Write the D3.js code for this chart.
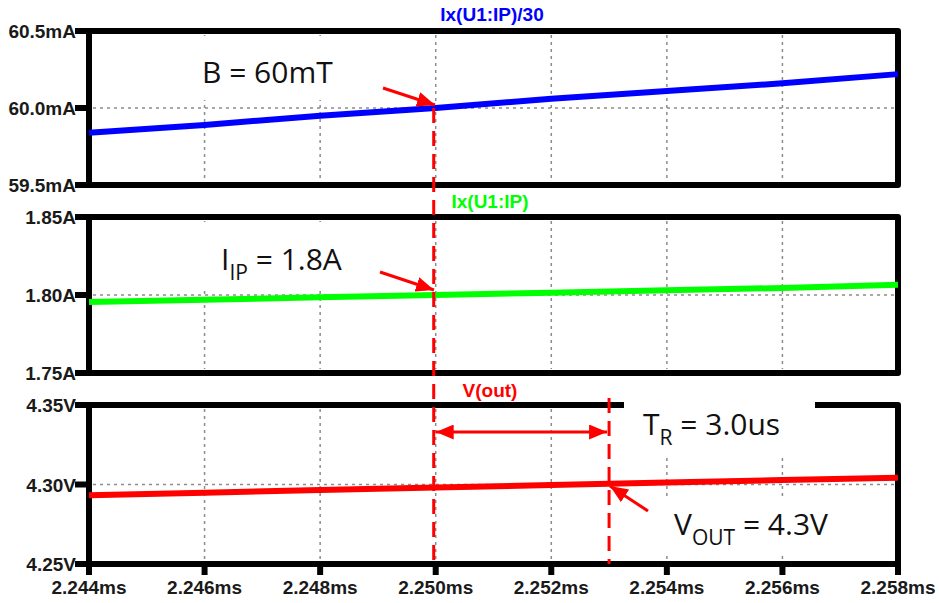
<!DOCTYPE html>
<html>
<head>
<meta charset="utf-8">
<script src="https://cdn.jsdelivr.net/npm/d3@7"></script>
<style>
  body { margin: 0; background: #fff; }
  .tick-label { font-family: Arial, "Liberation Sans", sans-serif; font-weight: bold; font-size: 19px; fill: #1a1a1a; }
  .trace-title { font-family: Arial, "Liberation Sans", sans-serif; font-weight: bold; font-size: 19px; }
  .note { font-family: "Open Sans", sans-serif; font-size: 30px; fill: #111; }
</style>
</head>
<body>
<div class="chart"></div>
<script>
// time axis (ms)
var timeMs = [2.244, 2.246, 2.248, 2.250, 2.252, 2.254, 2.256, 2.258];
var xTickLabels = ["2.244ms", "2.246ms", "2.248ms", "2.250ms", "2.252ms", "2.254ms", "2.256ms", "2.258ms"];

// Ix(U1:IP)/30 in mA
var ipDiv30 = [59.84, 59.89, 59.95, 60.00, 60.06, 60.11, 60.16, 60.22];
// Ix(U1:IP) in A
var ip = [1.7955, 1.7970, 1.7985, 1.8000, 1.8015, 1.8030, 1.8045, 1.8065];
// V(out) in V
var vout = [4.2932, 4.2948, 4.2965, 4.2981, 4.2997, 4.3013, 4.3028, 4.3043];

var panels = [
    { title: "Ix(U1:IP)/30", color: "#0000ff", values: ipDiv30, domain: [59.5, 60.5],
      ticks: [59.5, 60.0, 60.5], labels: ["59.5mA", "60.0mA", "60.5mA"], top: 31, bottom: 185, titleX: 492, titleY: 21 },
    { title: "Ix(U1:IP)", color: "#00ff00", values: ip, domain: [1.75, 1.85],
      ticks: [1.75, 1.80, 1.85], labels: ["1.75A", "1.80A", "1.85A"], top: 217, bottom: 373, titleX: 490, titleY: 208 },
    { title: "V(out)", color: "#ff0000", values: vout, domain: [4.25, 4.35],
      ticks: [4.25, 4.30, 4.35], labels: ["4.25V", "4.30V", "4.35V"], top: 405, bottom: 564, titleX: 490, titleY: 397 }
];

var width = 939, height = 603;
var left = 89, right = 898;

var svg = d3.select(".chart").append("svg")
    .attr("width", width)
    .attr("height", height);

var x = d3.scaleLinear().domain([2.244, 2.258]).range([left, right]);

var annRed = "#ff0000";
var defs = svg.append("defs");
defs.append("marker")
    .attr("id", "head")
    .attr("viewBox", "0 0 10 10")
    .attr("refX", 10).attr("refY", 5)
    .attr("markerWidth", 6).attr("markerHeight", 5)
    .attr("markerUnits", "strokeWidth")
    .attr("orient", "auto-start-reverse")
    .attr("preserveAspectRatio", "none")
    .append("path")
    .attr("d", "M0,0 L10,5 L0,10 z")
    .attr("fill", annRed);

panels.forEach(function(p, i) {
    var y = d3.scaleLinear().domain(p.domain).range([p.bottom, p.top]);
    var g = svg.append("g");

    // grid
    g.selectAll(".vgrid").data(timeMs.slice(1, -1)).enter().append("line")
        .attr("x1", d => x(d)).attr("x2", d => x(d))
        .attr("y1", p.top + 4).attr("y2", p.bottom - 4)
        .attr("stroke", "#8c8c8c").attr("stroke-width", 1.5)
        .attr("stroke-dasharray", "3,4");
    g.append("line")
        .attr("x1", left + 4).attr("x2", right - 4)
        .attr("y1", y(p.ticks[1])).attr("y2", y(p.ticks[1]))
        .attr("stroke", "#8c8c8c").attr("stroke-width", 1.5)
        .attr("stroke-dasharray", "3,4");

    // frame
    g.append("rect")
        .attr("x", left).attr("y", p.top)
        .attr("width", right - left).attr("height", p.bottom - p.top)
        .attr("fill", "none").attr("stroke", "#000").attr("stroke-width", 6)
        .attr("stroke-linejoin", "round");

    // left ticks + labels
    g.selectAll(".ytick").data(p.ticks).enter().append("line")
        .attr("x1", left - 14).attr("x2", left)
        .attr("y1", d => y(d)).attr("y2", d => y(d))
        .attr("stroke", "#000").attr("stroke-width", 6);
    g.selectAll(".ylab").data(p.ticks).enter().append("text")
        .attr("class", "tick-label")
        .attr("x", left - 13)
        .attr("y", d => y(d) + 7)
        .attr("text-anchor", "end")
        .text((d, k) => p.labels[k]);

    var line = d3.line().x((d, k) => x(timeMs[k])).y(d => y(d));
    p.y = y;
    p.line = line;

    // title
    svg.append("text")
        .attr("class", "trace-title")
        .attr("x", p.titleX).attr("y", p.titleY)
        .attr("text-anchor", "middle")
        .attr("fill", p.color)
        .text(p.title);
});

// bottom axis ticks and labels
var last = panels[2];
svg.selectAll(".xtick").data(timeMs).enter().append("line")
    .attr("x1", d => x(d)).attr("x2", d => x(d))
    .attr("y1", last.bottom).attr("y2", last.bottom + 11)
    .attr("stroke", "#000").attr("stroke-width", 6);
svg.selectAll(".xlab").data(timeMs).enter().append("text")
    .attr("class", "tick-label")
    .attr("x", d => x(d))
    .attr("y", 594)
    .attr("text-anchor", "middle")
    .text((d, k) => xTickLabels[k]);

// white boxes behind annotations (they hide grid and part of frame)
var boxes = [[188, 36, 180, 64], [190, 222, 180, 66], [624, 396, 191, 59], [650, 497, 230, 56]];
svg.selectAll(".box").data(boxes).enter().append("rect")
    .attr("x", d => d[0]).attr("y", d => d[1])
    .attr("width", d => d[2]).attr("height", d => d[3])
    .attr("fill", "#fff");

// traces on top
panels.forEach(function(p) {
    svg.append("path")
        .datum(p.values)
        .attr("d", p.line)
        .attr("fill", "none")
        .attr("stroke", p.color)
        .attr("stroke-width", 6);
});

// red markers
var tB = 2.250, tR = 2.253;
svg.append("line")
    .attr("x1", x(tB) - 2).attr("x2", x(tB) - 2)
    .attr("y1", panels[0].y(60.0)).attr("y2", 560)
    .attr("stroke", annRed).attr("stroke-width", 3)
    .attr("stroke-dasharray", "15,8");
svg.append("line")
    .attr("x1", x(tR)).attr("x2", x(tR))
    .attr("y1", 398).attr("y2", 564)
    .attr("stroke", annRed).attr("stroke-width", 3)
    .attr("stroke-dasharray", "15,8");

svg.append("line")
    .attr("x1", x(tB)).attr("x2", x(tR) - 2)
    .attr("y1", 432).attr("y2", 432)
    .attr("stroke", annRed).attr("stroke-width", 3)
    .attr("marker-start", "url(#head)")
    .attr("marker-end", "url(#head)");

var arrows = [[383, 88, 435, 105], [380, 272, 434, 290], [648, 511, 610, 486]];
svg.selectAll(".arrow").data(arrows).enter().append("line")
    .attr("x1", d => d[0]).attr("y1", d => d[1])
    .attr("x2", d => d[2]).attr("y2", d => d[3])
    .attr("stroke", annRed).attr("stroke-width", 3)
    .attr("marker-end", "url(#head)");

// annotation texts
svg.append("text").attr("class", "note").attr("x", 202).attr("y", 83).text("B = 60mT");

var tIp = svg.append("text").attr("class", "note").attr("x", 221).attr("y", 270);
tIp.append("tspan").text("I");
tIp.append("tspan").attr("dy", 10).style("font-size", "21px").text("IP");
tIp.append("tspan").attr("dy", -10).text(" = 1.8A");

var tTr = svg.append("text").attr("class", "note").attr("x", 643).attr("y", 435);
tTr.append("tspan").text("T");
tTr.append("tspan").attr("dy", 10).style("font-size", "21px").text("R");
tTr.append("tspan").attr("dy", -10).text(" = 3.0us");

var tV = svg.append("text").attr("class", "note").attr("x", 674).attr("y", 535);
tV.append("tspan").text("V");
tV.append("tspan").attr("dy", 10).style("font-size", "21px").text("OUT");
tV.append("tspan").attr("dy", -10).text(" = 4.3V");
</script>
</body>
</html>
